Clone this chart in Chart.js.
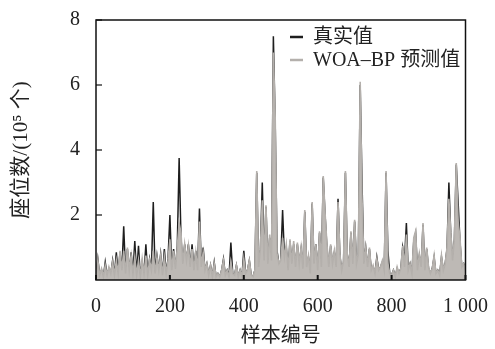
<!DOCTYPE html>
<html><head><meta charset="utf-8">
<script src="https://cdn.jsdelivr.net/npm/chart.js@4.4.1/dist/chart.umd.min.js"></script>
<style>html,body{margin:0;padding:0;background:#fff;}#wrap{width:495px;height:349px;}</style>
</head><body><div id="wrap"><canvas id="c" width="495" height="349"></canvas></div>
<script>
// sample numbers (every 5th sample)
const samples = Array.from({length: 201}, (_, i) => i * 5);

// 真实值 (10^5)
const actualValues = [
  0.1,0.65,0.15,0.3,0.1,0.55,0.15,0.35,0.2,0.6,
  0.15,0.85,0.2,0.85,0.3,1.65,0.2,0.95,0.25,0.85,
  0.2,1.2,0.15,1.05,0.1,0.55,0.2,1.1,0.15,0.65,
  0.3,2.4,0.2,0.75,0.3,0.8,0.15,0.95,0.2,0.65,
  2.0,0.3,0.95,0.3,1.05,3.75,1.3,0.45,1.1,0.55,
  1.1,0.4,1.1,0.3,0.9,0.3,2.2,0.4,1.0,0.3,
  0.5,0.15,0.45,0.1,0.55,0.1,0.2,0.1,0.3,0.65,
  0.15,0.3,0.1,1.15,0.2,0.15,0.45,0.1,0.3,0.1,
  0.9,0.2,0.3,0.6,0.15,0.1,0.3,3.3,0.4,0.95,
  3.0,0.6,2.25,0.5,1.3,0.6,7.5,4.8,0.9,0.5,
  0.6,2.15,0.7,1.0,0.3,1.2,0.5,1.1,0.4,1.1,
  0.5,0.95,0.35,2.1,0.4,0.7,0.2,2.35,0.5,1.1,
  0.3,1.45,0.4,3.15,2.0,1.0,0.4,1.05,0.5,0.85,
  0.4,2.5,0.75,0.3,0.55,3.3,0.8,0.4,1.45,0.5,
  1.8,0.5,0.75,6.0,2.95,0.5,1.0,0.4,0.95,0.3,
  0.4,0.2,0.7,0.3,0.4,0.55,0.3,3.3,0.9,0.2,
  0.15,0.3,0.1,0.35,0.2,0.35,1.0,0.6,1.75,0.3,
  0.5,0.2,1.2,1.45,0.3,0.75,0.4,1.7,0.3,0.95,
  0.35,0.2,0.35,0.7,0.2,0.3,0.15,0.7,0.3,0.5,
  0.95,3.0,1.45,0.6,1.25,3.55,2.4,1.2,0.4,0.5,
  0.3
];

// WOA-BP 预测值 (10^5)
const predictedValues = [
  0.1,0.6,0.15,0.35,0.1,0.45,0.15,0.4,0.2,0.55,
  0.15,0.6,0.2,0.9,0.3,0.9,0.2,1.0,0.3,0.75,
  0.2,0.7,0.15,0.6,0.1,0.65,0.2,0.75,0.15,0.6,
  0.3,0.9,0.2,0.7,0.3,0.75,0.15,0.7,0.2,0.6,
  1.25,0.3,0.9,0.35,1.0,1.75,1.45,0.5,1.1,0.6,
  1.05,0.4,0.95,0.3,0.85,0.3,1.8,0.4,0.85,0.3,
  0.5,0.15,0.45,0.1,0.5,0.1,0.2,0.1,0.3,0.6,
  0.15,0.3,0.1,0.55,0.2,0.15,0.45,0.1,0.3,0.1,
  0.65,0.2,0.3,0.6,0.15,0.1,0.3,3.35,0.4,1.0,
  2.45,0.6,2.3,0.5,1.4,0.6,7.0,5.0,0.8,0.5,
  0.6,1.3,0.7,1.1,0.3,1.25,0.5,1.2,0.4,1.15,
  0.5,1.0,0.35,2.15,0.4,0.75,0.2,2.4,0.5,1.1,
  0.3,1.5,0.4,3.2,2.05,1.1,0.4,1.1,0.5,0.9,
  0.4,2.4,0.8,0.3,0.6,3.35,0.8,0.4,1.5,0.5,
  1.85,0.5,0.8,6.1,2.5,0.5,1.0,0.4,1.0,0.3,
  0.45,0.2,0.65,0.3,0.4,0.6,0.3,3.35,0.5,0.2,
  0.15,0.3,0.1,0.4,0.2,0.35,1.05,0.4,1.4,0.3,
  0.5,0.2,1.3,1.5,0.3,0.8,0.4,1.75,0.3,1.0,
  0.4,0.2,0.35,0.75,0.2,0.3,0.15,0.75,0.3,0.5,
  1.0,2.5,1.5,0.6,1.3,3.6,1.8,1.3,0.4,0.5,
  0.3
];

const xTickValues = [0, 200, 400, 600, 800, 1000];
const yTickValues = [2, 4, 6, 8];
const seriesLabels = ['真实值', 'WOA–BP 预测值'];
const xTitle = '样本编号';
const yTitle = '座位数/(10⁵ 个)';

const BLACK = '#1e1e1e';
const GRAY = '#b4b0ac';
const GRAY_FILL = '#bdb9b5';
const TEXT = '#222222';
const FONT = '"Liberation Serif", "Times New Roman", "Noto Sans CJK SC", serif';

const framePlugin = {
  id: 'frame',
  afterDraw(chart) {
    const {ctx, chartArea: a, scales} = chart;
    ctx.save();
    ctx.strokeStyle = '#111';
    ctx.lineWidth = 1.5;
    ctx.strokeRect(a.left, a.top, a.right - a.left, a.bottom - a.top);
    ctx.lineWidth = 2;
    xTickValues.forEach(v => {
      const px = scales.x.getPixelForValue(v);
      ctx.beginPath(); ctx.moveTo(px, a.bottom); ctx.lineTo(px, a.bottom - 5); ctx.stroke();
    });
    ctx.lineWidth = 1.2;
    yTickValues.forEach(v => {
      const py = scales.y.getPixelForValue(v);
      ctx.beginPath(); ctx.moveTo(a.left, py); ctx.lineTo(a.left + 6, py); ctx.stroke();
    });
    ctx.restore();
  }
};

const legendPlugin = {
  id: 'inlineLegend',
  afterDatasetsDraw(chart) {
    const ctx = chart.ctx;
    const items = [chart.data.datasets[1], chart.data.datasets[0]];
    const rows = [37, 60];
    ctx.save();
    ctx.font = '20px ' + FONT;
    ctx.textBaseline = 'middle';
    items.forEach((ds, i) => {
      ctx.strokeStyle = ds.borderColor;
      ctx.lineWidth = 2.5;
      ctx.beginPath(); ctx.moveTo(290, rows[i]); ctx.lineTo(303, rows[i]); ctx.stroke();
      ctx.fillStyle = TEXT;
      ctx.fillText(ds.label, 313, rows[i] + 1);
    });
    ctx.restore();
  }
};

new Chart(document.getElementById('c'), {
  type: 'line',
  data: {
    datasets: [
      { label: seriesLabels[1], data: samples.map((s, i) => ({x: s, y: predictedValues[i]})),
        borderColor: GRAY, backgroundColor: GRAY_FILL, borderWidth: 1.6, pointRadius: 0, tension: 0,
        borderJoinStyle: 'miter', fill: 'origin' },
      { label: seriesLabels[0], data: samples.map((s, i) => ({x: s, y: actualValues[i]})),
        borderColor: BLACK, borderWidth: 1.5, pointRadius: 0, tension: 0, borderJoinStyle: 'miter', fill: false }
    ]
  },
  options: {
    responsive: false,
    animation: false,
    devicePixelRatio: 1,
    layout: { autoPadding: false, padding: { top: 15, right: 20, left: 0, bottom: 0 } },
    plugins: { legend: { display: false }, tooltip: { enabled: false }, filler: { drawTime: 'beforeDatasetDraw' } },
    scales: {
      x: {
        type: 'linear', min: 0, max: 1000,
        afterFit(s) { s.height = 69; },
        afterBuildTicks(s) { s.ticks = xTickValues.map(v => ({value: v})); },
        ticks: { callback: v => (v === 1000 ? '1 000' : String(v)), font: { family: FONT, size: 20 }, color: TEXT, padding: 7, maxRotation: 0, autoSkip: false },
        grid: { display: false }, border: { display: false },
        title: { display: true, text: xTitle, font: { family: FONT, size: 20 }, color: TEXT, padding: { top: 0, bottom: 0 } }
      },
      y: {
        type: 'linear', min: 0, max: 8,
        afterFit(s) { s.width = 96; },
        afterBuildTicks(s) { s.ticks = yTickValues.map(v => ({value: v})); },
        ticks: { font: { family: FONT, size: 20 }, color: TEXT, padding: 8 },
        grid: { display: false }, border: { display: false },
        title: { display: true, text: yTitle, font: { family: FONT, size: 21 }, color: TEXT, padding: { top: 9, bottom: 0 } }
      }
    }
  },
  plugins: [framePlugin, legendPlugin]
});
</script>
</body></html>
